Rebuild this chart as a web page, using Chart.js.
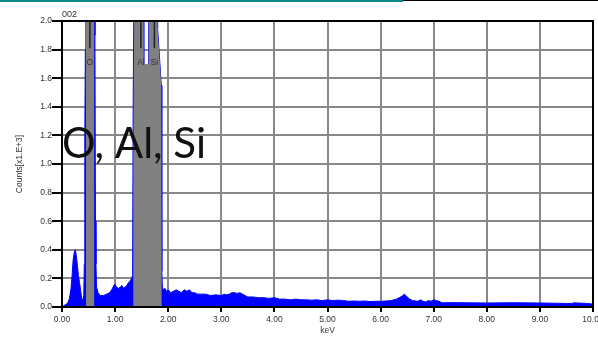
<!DOCTYPE html>
<html>
<head>
<meta charset="utf-8">
<script src="https://cdn.jsdelivr.net/npm/chart.js@4"></script>
<style>
  body { margin: 0; background: #fff; }
  #wrap { position: relative; width: 598px; height: 340px; }
  #topTeal { position: absolute; left: 0; top: 0; width: 403px; height: 2px; background: #0a8a8a; }
  #topBlack { position: absolute; left: 403px; top: 0; width: 195px; height: 1px; background: #000; }
</style>
</head>
<body>
<div id="wrap">
  <canvas id="spectrum" width="598" height="340"></canvas>
  <div id="topTeal"></div>
  <div id="topBlack"></div>
</div>
<script>
// EDS spectrum, counts in thousands
const energy = [
  0.00, 0.04, 0.08, 0.11, 0.14, 0.17, 0.19, 0.21, 0.23, 0.25, 0.27, 0.29, 0.31, 0.33, 0.35, 0.37, 0.39, 0.41,
  0.42, 0.43, 0.44, 0.45, 0.53, 0.61, 0.62, 0.63, 0.64, 0.65, 0.68, 0.72, 0.78, 0.84, 0.90, 0.95, 0.99, 1.03,
  1.06, 1.10, 1.13, 1.16, 1.19, 1.22, 1.25, 1.28, 1.31, 1.33, 1.34, 1.36, 1.38, 1.53, 1.54, 1.63, 1.64, 1.79,
  1.80, 1.87, 1.88, 1.89, 1.91, 1.94, 1.97, 2.00, 2.05, 2.10, 2.15, 2.20, 2.25, 2.30, 2.35, 2.40, 2.45, 2.50,
  2.55, 2.60, 2.70, 2.80, 2.90, 3.00, 3.05, 3.10, 3.15, 3.20, 3.25, 3.30, 3.35, 3.40, 3.45, 3.50, 3.60, 3.70,
  3.80, 3.90, 4.00, 4.10, 4.20, 4.30, 4.40, 4.50, 4.60, 4.70, 4.80, 4.90, 5.00, 5.10, 5.20, 5.30, 5.40, 5.50,
  5.60, 5.70, 5.80, 5.90, 6.00, 6.10, 6.20, 6.30, 6.35, 6.40, 6.45, 6.50, 6.55, 6.60, 6.70, 6.75, 6.80, 6.85,
  6.90, 6.95, 7.00, 7.05, 7.10, 7.15, 7.20, 7.50, 8.00, 8.50, 9.00, 9.50, 9.60, 9.65, 9.70, 9.90, 10.00
];
const counts = [
  0.00, 0.01, 0.02, 0.03, 0.06, 0.13, 0.22, 0.33, 0.38, 0.40, 0.36, 0.29, 0.22, 0.17, 0.12, 0.06, 0.05, 0.08,
  0.30, 1.20, 1.80, 3.00, 3.00, 3.00, 1.90, 0.60, 0.30, 0.14, 0.10, 0.08, 0.08, 0.09, 0.10, 0.13, 0.16, 0.14,
  0.13, 0.14, 0.15, 0.13, 0.14, 0.15, 0.17, 0.18, 0.20, 0.22, 1.40, 2.40, 3.00, 3.00, 1.68, 1.68, 3.00, 3.00,
  1.95, 1.55, 0.25, 0.14, 0.12, 0.13, 0.11, 0.12, 0.10, 0.11, 0.12, 0.11, 0.10, 0.12, 0.11, 0.12, 0.10, 0.10,
  0.09, 0.09, 0.09, 0.08, 0.085, 0.08, 0.09, 0.085, 0.09, 0.10, 0.10, 0.095, 0.10, 0.09, 0.08, 0.07, 0.07, 0.065,
  0.065, 0.06, 0.065, 0.055, 0.055, 0.05, 0.055, 0.05, 0.05, 0.048, 0.05, 0.045, 0.05, 0.045, 0.048, 0.045, 0.04, 0.042,
  0.04, 0.042, 0.038, 0.04, 0.04, 0.042, 0.045, 0.055, 0.065, 0.075, 0.09, 0.07, 0.055, 0.045, 0.04, 0.05, 0.04, 0.035,
  0.045, 0.04, 0.05, 0.045, 0.04, 0.03, 0.03, 0.03, 0.028, 0.03, 0.028, 0.025, 0.025, 0.03, 0.028, 0.025, 0.02
];

// peak regions of interest (gray)
const roiOEnergy = [0.45, 0.45, 0.61, 0.61];
const roiOCounts = [0, 3.0, 3.0, 0];
const roiAlSiEnergy = [1.34, 1.34, 1.37, 1.39, 1.53, 1.54, 1.63, 1.64, 1.79, 1.80, 1.87, 1.88];
const roiAlSiCounts = [0, 1.0, 2.5, 3.0, 3.0, 1.70, 1.70, 3.0, 3.0, 1.95, 1.55, 0];

// element markers
const markerEnergy = [0.525, 1.486, 1.740];
const markerLabels = ['O', 'Al', 'Si'];
const markerTop = 2.0;
const markerBottom = 1.81;

const yTicks = [0.0, 0.2, 0.4, 0.6, 0.8, 1.0, 1.2, 1.4, 1.6, 1.8, 2.0];
const xTicks = [0, 1, 2, 3, 4, 5, 6, 7, 8, 9, 10];

function toPoints(xs, ys) {
  return xs.map((x, i) => ({ x: x, y: ys[i] }));
}

const markerSets = markerEnergy.map(e => ({
  data: [{ x: e, y: markerTop }, { x: e, y: markerBottom }],
  borderColor: '#222',
  borderWidth: 1.5,
  pointRadius: 0,
  fill: false,
  order: 0
}));

// frame, marker labels and the extra texts
const extrasPlugin = {
  id: 'extras',
  afterDraw(chart) {
    const ctx = chart.ctx;
    const a = chart.chartArea;
    const xs = chart.scales.x;
    const ys = chart.scales.y;
    ctx.save();
    ctx.strokeStyle = '#000';
    ctx.lineWidth = 2;
    ctx.strokeRect(a.left, a.top, a.right - a.left, a.bottom - a.top);

    ctx.fillStyle = '#333';
    ctx.font = '8.5px "Liberation Sans", Arial, sans-serif';
    ctx.textAlign = 'center';
    ctx.textBaseline = 'middle';
    markerLabels.forEach((lab, i) => {
      ctx.fillText(lab, xs.getPixelForValue(markerEnergy[i]), ys.getPixelForValue(markerBottom) + 14);
    });

    ctx.textAlign = 'left';
    ctx.font = '9px "Liberation Sans", Arial, sans-serif';
    ctx.fillText('002', a.left, a.top - 6);

    ctx.fillStyle = '#111';
    ctx.font = '42px Lato, "Open Sans", sans-serif';
    ctx.textBaseline = 'alphabetic';
    ctx.fillText('O, Al, Si', a.left, 158);
    ctx.restore();
  }
};

const tickFont = { family: '"Liberation Sans", Arial, sans-serif', size: 8.5 };

new Chart(document.getElementById('spectrum'), {
  type: 'line',
  data: {
    datasets: [
      ...markerSets,
      {
        data: toPoints(roiOEnergy, roiOCounts),
        borderWidth: 0,
        borderColor: 'rgba(0,0,0,0)',
        backgroundColor: '#808080',
        pointRadius: 0,
        fill: 'origin',
        order: 1
      },
      {
        data: toPoints(roiAlSiEnergy, roiAlSiCounts),
        borderWidth: 0,
        borderColor: 'rgba(0,0,0,0)',
        backgroundColor: '#808080',
        pointRadius: 0,
        fill: 'origin',
        order: 1
      },
      {
        data: toPoints(energy, counts),
        borderColor: '#0000ff',
        borderWidth: 1,
        backgroundColor: '#0000ff',
        pointRadius: 0,
        fill: 'origin',
        order: 2
      }
    ]
  },
  options: {
    responsive: false,
    animation: false,
    layout: { padding: { top: 21, right: 5, left: 0, bottom: 0 } },
    plugins: {
      legend: { display: false },
      tooltip: { enabled: false }
    },
    scales: {
      x: {
        type: 'linear',
        min: 0,
        max: 10,
        afterBuildTicks(scale) { scale.ticks = xTicks.map(v => ({ value: v })); },
        afterFit(scale) { scale.height = 33; scale.paddingLeft = 0; scale.paddingRight = 0; },
        ticks: {
          callback: v => v.toFixed(2),
          color: '#333',
          font: tickFont,
          padding: 3,
          maxRotation: 0,
          autoSkip: false
        },
        grid: { color: '#888', lineWidth: 2, tickColor: '#000', tickLength: 5, tickWidth: 2 },
        border: { display: false },
        title: {
          display: true,
          text: 'keV',
          color: '#333',
          font: tickFont,
          padding: { top: 0, bottom: 4 }
        }
      },
      y: {
        min: 0,
        max: 2,
        afterBuildTicks(scale) { scale.ticks = yTicks.map(v => ({ value: v })); },
        afterFit(scale) { scale.width = 62; scale.paddingTop = 0; scale.paddingBottom = 0; },
        ticks: {
          callback: v => v.toFixed(1),
          color: '#333',
          font: tickFont,
          padding: 0
        },
        grid: { color: '#888', lineWidth: 2, tickColor: '#000', tickLength: 10, tickWidth: 2 },
        border: { display: false },
        title: {
          display: true,
          text: 'Counts[x1.E+3]',
          color: '#333',
          font: tickFont,
          padding: { top: 15, bottom: 0 }
        }
      }
    }
  },
  plugins: [extrasPlugin]
});
</script>
</body>
</html>
